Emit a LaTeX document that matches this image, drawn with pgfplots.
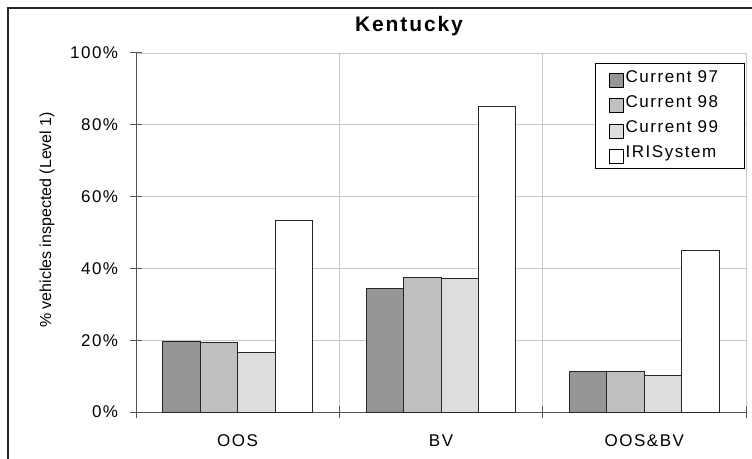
\documentclass[border=0pt]{standalone}
\usepackage{pgfplots}
\pgfplotsset{compat=1.18}
\usepackage{fontspec}
\setmainfont{Liberation Sans}[LetterSpace=9]
\newfontfamily\ylabfont{Liberation Sans}
\definecolor{c97}{HTML}{969696}
\definecolor{c98}{HTML}{C0C0C0}
\definecolor{c99}{HTML}{DDDDDD}
\definecolor{gridc}{HTML}{C8C8C8}
\definecolor{axc}{HTML}{555555}
\begin{document}
\fontsize{17}{20}\selectfont
\begin{tikzpicture}[x=1pt,y=1pt]
\useasboundingbox (0,0) rectangle (752,458);
\draw[black!85, line width=1.2pt] (8,-5) -- (8,450) -- (760,450);
\begin{axis}[
  at={(136pt,46pt)}, anchor=south west,
  scale only axis, width=610pt, height=359pt,
  xmin=-0.5, xmax=2.5, ymin=0, ymax=100,
  ybar=0pt, bar width=0.1844,
  axis lines*=left,
  axis line style={-, draw=axc, line width=1pt},
  xtick={-0.5,0.5,1.5,2.5}, xticklabels={},
  extra x ticks={0,1,2},
  extra x tick labels={OOS,BV,OOS\&BV},
  extra x tick style={grid=none, major tick length=0pt,
     tick label style={yshift=-17pt}},
  ytick={0,20,40,60,80,100},
  yticklabel={\pgfmathprintnumber{\tick}\%},
  yticklabel style={xshift=-6pt},
  /pgf/number format/assume math mode=true,
  tick align=center, major tick length=12pt,
  tick style={draw=axc, line width=1pt},
  grid=major,
  major grid style={draw=gridc, line width=0.9pt},
  tick label style={font=\fontsize{17}{20}\selectfont},
  title={Kentucky},
  title style={at={(axis description cs:0.4475,1.078)}, anchor=center, yshift=-7pt, font=\fontsize{21}{24}\selectfont\bfseries},
  ylabel={\% vehicles inspected (Level 1)},
  every axis y label/.style={at={(axis description cs:-0.146,0.535)}, rotate=90, anchor=center, font=\fontsize{16}{19}\ylabfont},
  legend style={at={(axis description cs:0.9985,0.972)}, anchor=north east,
     draw=black, line width=0.9pt, font=\fontsize{17}{20}\selectfont,
     cells={anchor=west}, row sep=5.5pt, inner xsep=13pt, inner ysep=5pt},
  legend image code/.code={\draw[#1,/tikz/.cd,line width=0.8pt,draw=black] (0pt,-10pt) rectangle (14pt,4pt);},
  every axis plot/.append style={draw=black!85, line width=1pt},
]
\addplot[fill=c97] coordinates {(0,19.7) (1,34.5) (2,11.3)};
\addplot[fill=c98] coordinates {(0,19.3) (1,37.6) (2,11.3)};
\addplot[fill=c99] coordinates {(0,16.7) (1,37.2) (2,10.3)};
\addplot[fill=white] coordinates {(0,53.3) (1,85.2) (2,45.0)};
\legend{\makebox[104pt][l]{Current 97},\makebox[104pt][l]{Current 98},\makebox[104pt][l]{Current 99},\makebox[104pt][l]{IRISystem}}
\end{axis}
\end{tikzpicture}
\end{document}
